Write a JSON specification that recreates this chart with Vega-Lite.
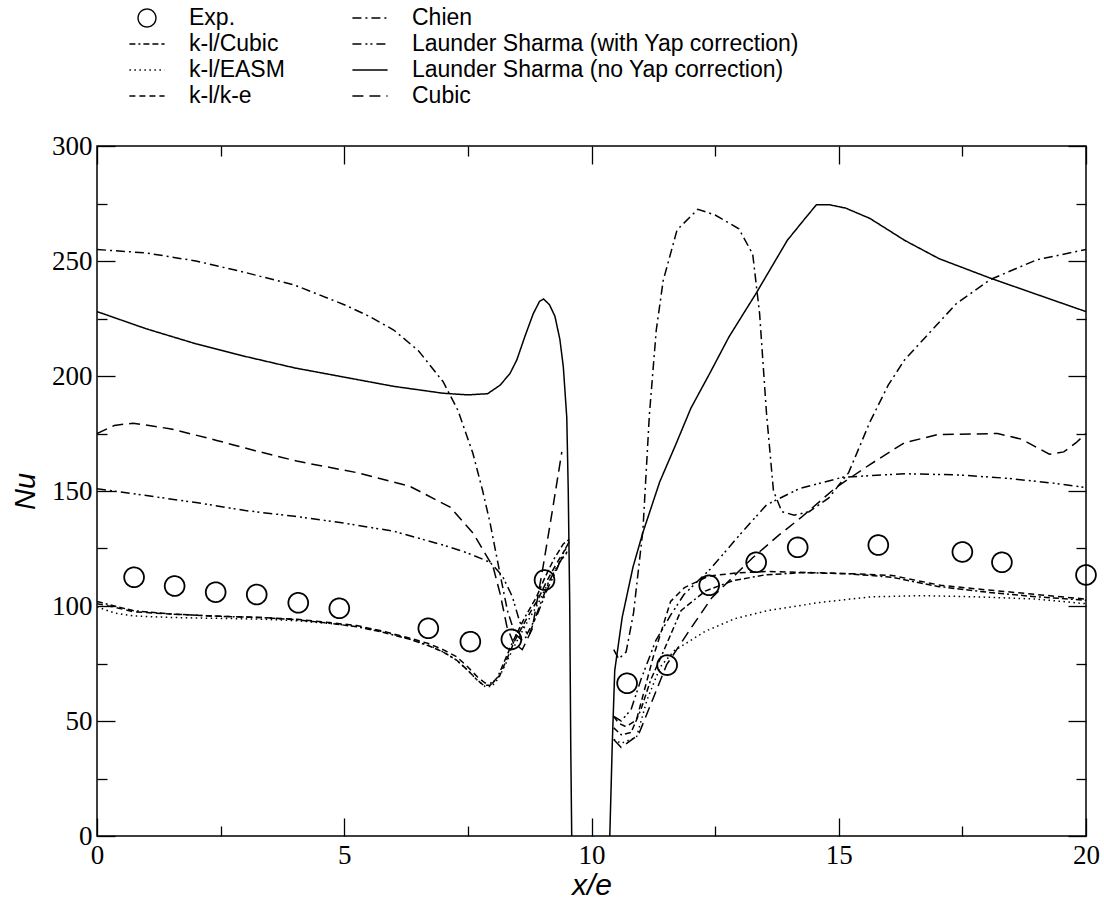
{
  "$schema": "https://vega.github.io/schema/vega-lite/v6.json",
  "width": 989,
  "height": 690,
  "autosize": {"type": "none"},
  "padding": {"left": 97, "top": 146, "right": 18, "bottom": 72},
  "background": "white",
  "datasets": {
    "curves": [
      {"s":"Launder Sharma (no Yap correction)","p":"L","x":0,"y":228},
      {"s":"Launder Sharma (no Yap correction)","p":"L","x":1,"y":220.5},
      {"s":"Launder Sharma (no Yap correction)","p":"L","x":2,"y":214},
      {"s":"Launder Sharma (no Yap correction)","p":"L","x":3,"y":208.5},
      {"s":"Launder Sharma (no Yap correction)","p":"L","x":4,"y":203.5},
      {"s":"Launder Sharma (no Yap correction)","p":"L","x":5,"y":199.5},
      {"s":"Launder Sharma (no Yap correction)","p":"L","x":6,"y":195.5},
      {"s":"Launder Sharma (no Yap correction)","p":"L","x":7,"y":192.5},
      {"s":"Launder Sharma (no Yap correction)","p":"L","x":7.5,"y":191.8},
      {"s":"Launder Sharma (no Yap correction)","p":"L","x":7.9,"y":192.3},
      {"s":"Launder Sharma (no Yap correction)","p":"L","x":8.15,"y":196},
      {"s":"Launder Sharma (no Yap correction)","p":"L","x":8.35,"y":201},
      {"s":"Launder Sharma (no Yap correction)","p":"L","x":8.49,"y":207},
      {"s":"Launder Sharma (no Yap correction)","p":"L","x":8.65,"y":217},
      {"s":"Launder Sharma (no Yap correction)","p":"L","x":8.82,"y":227},
      {"s":"Launder Sharma (no Yap correction)","p":"L","x":8.95,"y":232.5},
      {"s":"Launder Sharma (no Yap correction)","p":"L","x":9.03,"y":233.5},
      {"s":"Launder Sharma (no Yap correction)","p":"L","x":9.15,"y":231},
      {"s":"Launder Sharma (no Yap correction)","p":"L","x":9.26,"y":226},
      {"s":"Launder Sharma (no Yap correction)","p":"L","x":9.36,"y":216},
      {"s":"Launder Sharma (no Yap correction)","p":"L","x":9.43,"y":204},
      {"s":"Launder Sharma (no Yap correction)","p":"L","x":9.5,"y":182},
      {"s":"Launder Sharma (no Yap correction)","p":"L","x":9.53,"y":150},
      {"s":"Launder Sharma (no Yap correction)","p":"L","x":9.56,"y":100},
      {"s":"Launder Sharma (no Yap correction)","p":"L","x":9.58,"y":40},
      {"s":"Launder Sharma (no Yap correction)","p":"L","x":9.6,"y":0},
      {"s":"Launder Sharma (no Yap correction)","p":"R","x":10.37,"y":0},
      {"s":"Launder Sharma (no Yap correction)","p":"R","x":10.42,"y":40},
      {"s":"Launder Sharma (no Yap correction)","p":"R","x":10.47,"y":72},
      {"s":"Launder Sharma (no Yap correction)","p":"R","x":10.62,"y":95},
      {"s":"Launder Sharma (no Yap correction)","p":"R","x":10.84,"y":117},
      {"s":"Launder Sharma (no Yap correction)","p":"R","x":11.04,"y":132},
      {"s":"Launder Sharma (no Yap correction)","p":"R","x":11.38,"y":154},
      {"s":"Launder Sharma (no Yap correction)","p":"R","x":11.7,"y":170},
      {"s":"Launder Sharma (no Yap correction)","p":"R","x":12.01,"y":186},
      {"s":"Launder Sharma (no Yap correction)","p":"R","x":12.4,"y":201.5},
      {"s":"Launder Sharma (no Yap correction)","p":"R","x":12.78,"y":217},
      {"s":"Launder Sharma (no Yap correction)","p":"R","x":13.33,"y":236},
      {"s":"Launder Sharma (no Yap correction)","p":"R","x":13.96,"y":259},
      {"s":"Launder Sharma (no Yap correction)","p":"R","x":14.3,"y":268},
      {"s":"Launder Sharma (no Yap correction)","p":"R","x":14.55,"y":274.5},
      {"s":"Launder Sharma (no Yap correction)","p":"R","x":14.8,"y":274.5},
      {"s":"Launder Sharma (no Yap correction)","p":"R","x":15.14,"y":273},
      {"s":"Launder Sharma (no Yap correction)","p":"R","x":15.63,"y":268.5},
      {"s":"Launder Sharma (no Yap correction)","p":"R","x":16.0,"y":263.5},
      {"s":"Launder Sharma (no Yap correction)","p":"R","x":16.33,"y":259},
      {"s":"Launder Sharma (no Yap correction)","p":"R","x":17.03,"y":251},
      {"s":"Launder Sharma (no Yap correction)","p":"R","x":18.07,"y":242.5},
      {"s":"Launder Sharma (no Yap correction)","p":"R","x":19.0,"y":235.5},
      {"s":"Launder Sharma (no Yap correction)","p":"R","x":20,"y":228},

      {"s":"Chien","p":"L","x":0,"y":255},
      {"s":"Chien","p":"L","x":1,"y":253.5},
      {"s":"Chien","p":"L","x":2,"y":250},
      {"s":"Chien","p":"L","x":3,"y":245},
      {"s":"Chien","p":"L","x":4,"y":239.5},
      {"s":"Chien","p":"L","x":5,"y":231},
      {"s":"Chien","p":"L","x":5.5,"y":226},
      {"s":"Chien","p":"L","x":6,"y":220},
      {"s":"Chien","p":"L","x":6.5,"y":211},
      {"s":"Chien","p":"L","x":7,"y":197.5},
      {"s":"Chien","p":"L","x":7.3,"y":185},
      {"s":"Chien","p":"L","x":7.6,"y":166.5},
      {"s":"Chien","p":"L","x":7.8,"y":150},
      {"s":"Chien","p":"L","x":7.95,"y":136},
      {"s":"Chien","p":"L","x":8.15,"y":114},
      {"s":"Chien","p":"L","x":8.3,"y":98},
      {"s":"Chien","p":"L","x":8.45,"y":88},
      {"s":"Chien","p":"L","x":8.6,"y":85},
      {"s":"Chien","p":"L","x":8.75,"y":88},
      {"s":"Chien","p":"L","x":8.95,"y":100},
      {"s":"Chien","p":"L","x":9.15,"y":111},
      {"s":"Chien","p":"L","x":9.35,"y":119},
      {"s":"Chien","p":"L","x":9.52,"y":124},
      {"s":"Chien","p":"R","x":10.45,"y":81},
      {"s":"Chien","p":"R","x":10.55,"y":77},
      {"s":"Chien","p":"R","x":10.7,"y":80},
      {"s":"Chien","p":"R","x":10.85,"y":97},
      {"s":"Chien","p":"R","x":11.04,"y":133},
      {"s":"Chien","p":"R","x":11.17,"y":183},
      {"s":"Chien","p":"R","x":11.31,"y":220},
      {"s":"Chien","p":"R","x":11.45,"y":241.5},
      {"s":"Chien","p":"R","x":11.73,"y":263.5},
      {"s":"Chien","p":"R","x":12.15,"y":272.5},
      {"s":"Chien","p":"R","x":12.5,"y":270},
      {"s":"Chien","p":"R","x":12.98,"y":264},
      {"s":"Chien","p":"R","x":13.26,"y":253},
      {"s":"Chien","p":"R","x":13.4,"y":227},
      {"s":"Chien","p":"R","x":13.54,"y":183.5},
      {"s":"Chien","p":"R","x":13.68,"y":150},
      {"s":"Chien","p":"R","x":13.85,"y":141},
      {"s":"Chien","p":"R","x":14.1,"y":139.5},
      {"s":"Chien","p":"R","x":14.4,"y":141},
      {"s":"Chien","p":"R","x":14.8,"y":147},
      {"s":"Chien","p":"R","x":15.2,"y":158},
      {"s":"Chien","p":"R","x":15.63,"y":180},
      {"s":"Chien","p":"R","x":16.0,"y":196},
      {"s":"Chien","p":"R","x":16.33,"y":207},
      {"s":"Chien","p":"R","x":17.38,"y":231.5},
      {"s":"Chien","p":"R","x":18.07,"y":242},
      {"s":"Chien","p":"R","x":19.0,"y":250.5},
      {"s":"Chien","p":"R","x":20,"y":255},

      {"s":"Launder Sharma (with Yap correction)","p":"L","x":0,"y":151},
      {"s":"Launder Sharma (with Yap correction)","p":"L","x":1,"y":148},
      {"s":"Launder Sharma (with Yap correction)","p":"L","x":2,"y":145},
      {"s":"Launder Sharma (with Yap correction)","p":"L","x":3,"y":141.5},
      {"s":"Launder Sharma (with Yap correction)","p":"L","x":4,"y":139},
      {"s":"Launder Sharma (with Yap correction)","p":"L","x":5,"y":136},
      {"s":"Launder Sharma (with Yap correction)","p":"L","x":6,"y":132.5},
      {"s":"Launder Sharma (with Yap correction)","p":"L","x":7,"y":126.5},
      {"s":"Launder Sharma (with Yap correction)","p":"L","x":7.5,"y":123},
      {"s":"Launder Sharma (with Yap correction)","p":"L","x":7.95,"y":119},
      {"s":"Launder Sharma (with Yap correction)","p":"L","x":8.2,"y":113},
      {"s":"Launder Sharma (with Yap correction)","p":"L","x":8.4,"y":104},
      {"s":"Launder Sharma (with Yap correction)","p":"L","x":8.55,"y":93},
      {"s":"Launder Sharma (with Yap correction)","p":"L","x":8.7,"y":88},
      {"s":"Launder Sharma (with Yap correction)","p":"L","x":8.9,"y":96},
      {"s":"Launder Sharma (with Yap correction)","p":"L","x":9.1,"y":107},
      {"s":"Launder Sharma (with Yap correction)","p":"L","x":9.3,"y":116},
      {"s":"Launder Sharma (with Yap correction)","p":"L","x":9.45,"y":124},
      {"s":"Launder Sharma (with Yap correction)","p":"L","x":9.55,"y":128},
      {"s":"Launder Sharma (with Yap correction)","p":"R","x":10.45,"y":52},
      {"s":"Launder Sharma (with Yap correction)","p":"R","x":10.6,"y":50},
      {"s":"Launder Sharma (with Yap correction)","p":"R","x":10.8,"y":55},
      {"s":"Launder Sharma (with Yap correction)","p":"R","x":11.0,"y":68},
      {"s":"Launder Sharma (with Yap correction)","p":"R","x":11.3,"y":85},
      {"s":"Launder Sharma (with Yap correction)","p":"R","x":11.6,"y":96},
      {"s":"Launder Sharma (with Yap correction)","p":"R","x":11.87,"y":105},
      {"s":"Launder Sharma (with Yap correction)","p":"R","x":12.4,"y":116},
      {"s":"Launder Sharma (with Yap correction)","p":"R","x":13.0,"y":131},
      {"s":"Launder Sharma (with Yap correction)","p":"R","x":13.54,"y":144},
      {"s":"Launder Sharma (with Yap correction)","p":"R","x":14.2,"y":151},
      {"s":"Launder Sharma (with Yap correction)","p":"R","x":15.08,"y":156},
      {"s":"Launder Sharma (with Yap correction)","p":"R","x":16.33,"y":157.5},
      {"s":"Launder Sharma (with Yap correction)","p":"R","x":17.4,"y":157},
      {"s":"Launder Sharma (with Yap correction)","p":"R","x":18.42,"y":155.5},
      {"s":"Launder Sharma (with Yap correction)","p":"R","x":19.3,"y":153.5},
      {"s":"Launder Sharma (with Yap correction)","p":"R","x":20,"y":151.5},

      {"s":"Cubic","p":"L","x":0,"y":175},
      {"s":"Cubic","p":"L","x":0.35,"y":178.5},
      {"s":"Cubic","p":"L","x":0.73,"y":179.5},
      {"s":"Cubic","p":"L","x":1.5,"y":177},
      {"s":"Cubic","p":"L","x":2.42,"y":172},
      {"s":"Cubic","p":"L","x":3.2,"y":167.5},
      {"s":"Cubic","p":"L","x":4.04,"y":163},
      {"s":"Cubic","p":"L","x":5.25,"y":158},
      {"s":"Cubic","p":"L","x":6.33,"y":152},
      {"s":"Cubic","p":"L","x":7.14,"y":143},
      {"s":"Cubic","p":"L","x":7.61,"y":131.5},
      {"s":"Cubic","p":"L","x":8.01,"y":117},
      {"s":"Cubic","p":"L","x":8.15,"y":105.5},
      {"s":"Cubic","p":"L","x":8.29,"y":91},
      {"s":"Cubic","p":"L","x":8.42,"y":84},
      {"s":"Cubic","p":"L","x":8.6,"y":81},
      {"s":"Cubic","p":"L","x":8.8,"y":90},
      {"s":"Cubic","p":"L","x":9.02,"y":117},
      {"s":"Cubic","p":"L","x":9.22,"y":143},
      {"s":"Cubic","p":"L","x":9.4,"y":167},
      {"s":"Cubic","p":"R","x":10.45,"y":42},
      {"s":"Cubic","p":"R","x":10.6,"y":38.5},
      {"s":"Cubic","p":"R","x":10.95,"y":44},
      {"s":"Cubic","p":"R","x":11.25,"y":60},
      {"s":"Cubic","p":"R","x":11.52,"y":74.5},
      {"s":"Cubic","p":"R","x":12.0,"y":90},
      {"s":"Cubic","p":"R","x":12.43,"y":103.5},
      {"s":"Cubic","p":"R","x":13.26,"y":121},
      {"s":"Cubic","p":"R","x":13.8,"y":131},
      {"s":"Cubic","p":"R","x":14.24,"y":138.5},
      {"s":"Cubic","p":"R","x":14.94,"y":151.5},
      {"s":"Cubic","p":"R","x":15.63,"y":161.5},
      {"s":"Cubic","p":"R","x":16.33,"y":171},
      {"s":"Cubic","p":"R","x":17.0,"y":174.5},
      {"s":"Cubic","p":"R","x":18.21,"y":175},
      {"s":"Cubic","p":"R","x":18.7,"y":172.5},
      {"s":"Cubic","p":"R","x":19.0,"y":169},
      {"s":"Cubic","p":"R","x":19.26,"y":166},
      {"s":"Cubic","p":"R","x":19.55,"y":167},
      {"s":"Cubic","p":"R","x":19.8,"y":171},
      {"s":"Cubic","p":"R","x":20,"y":175},

      {"s":"k-l/Cubic","p":"L","x":0,"y":102},
      {"s":"k-l/Cubic","p":"L","x":0.35,"y":100},
      {"s":"k-l/Cubic","p":"L","x":0.73,"y":98},
      {"s":"k-l/Cubic","p":"L","x":1.5,"y":96.5},
      {"s":"k-l/Cubic","p":"L","x":2.5,"y":95.5},
      {"s":"k-l/Cubic","p":"L","x":3.3,"y":95},
      {"s":"k-l/Cubic","p":"L","x":4.04,"y":94},
      {"s":"k-l/Cubic","p":"L","x":4.7,"y":92.5},
      {"s":"k-l/Cubic","p":"L","x":5.25,"y":91},
      {"s":"k-l/Cubic","p":"L","x":5.8,"y":88.5},
      {"s":"k-l/Cubic","p":"L","x":6.33,"y":85.5},
      {"s":"k-l/Cubic","p":"L","x":6.73,"y":82.5},
      {"s":"k-l/Cubic","p":"L","x":7.0,"y":80},
      {"s":"k-l/Cubic","p":"L","x":7.27,"y":76.5},
      {"s":"k-l/Cubic","p":"L","x":7.5,"y":72},
      {"s":"k-l/Cubic","p":"L","x":7.68,"y":68},
      {"s":"k-l/Cubic","p":"L","x":7.82,"y":65.5},
      {"s":"k-l/Cubic","p":"L","x":7.95,"y":65.5},
      {"s":"k-l/Cubic","p":"L","x":8.1,"y":69},
      {"s":"k-l/Cubic","p":"L","x":8.42,"y":85},
      {"s":"k-l/Cubic","p":"L","x":8.65,"y":95},
      {"s":"k-l/Cubic","p":"L","x":8.89,"y":104},
      {"s":"k-l/Cubic","p":"L","x":9.05,"y":112},
      {"s":"k-l/Cubic","p":"L","x":9.23,"y":120},
      {"s":"k-l/Cubic","p":"L","x":9.43,"y":127},
      {"s":"k-l/Cubic","p":"L","x":9.55,"y":129},
      {"s":"k-l/Cubic","p":"R","x":10.45,"y":47},
      {"s":"k-l/Cubic","p":"R","x":10.6,"y":44},
      {"s":"k-l/Cubic","p":"R","x":10.8,"y":45},
      {"s":"k-l/Cubic","p":"R","x":11.0,"y":55},
      {"s":"k-l/Cubic","p":"R","x":11.2,"y":68},
      {"s":"k-l/Cubic","p":"R","x":11.46,"y":80.5},
      {"s":"k-l/Cubic","p":"R","x":11.81,"y":98},
      {"s":"k-l/Cubic","p":"R","x":12.3,"y":106.5},
      {"s":"k-l/Cubic","p":"R","x":12.86,"y":111},
      {"s":"k-l/Cubic","p":"R","x":13.5,"y":113.5},
      {"s":"k-l/Cubic","p":"R","x":14.26,"y":114.5},
      {"s":"k-l/Cubic","p":"R","x":15.2,"y":114},
      {"s":"k-l/Cubic","p":"R","x":16.08,"y":112.5},
      {"s":"k-l/Cubic","p":"R","x":17.0,"y":108.5},
      {"s":"k-l/Cubic","p":"R","x":18.0,"y":106},
      {"s":"k-l/Cubic","p":"R","x":19.0,"y":104},
      {"s":"k-l/Cubic","p":"R","x":20,"y":102.5},

      {"s":"k-l/k-e","p":"L","x":0,"y":101},
      {"s":"k-l/k-e","p":"L","x":0.35,"y":99.5},
      {"s":"k-l/k-e","p":"L","x":0.73,"y":97.5},
      {"s":"k-l/k-e","p":"L","x":1.5,"y":96.5},
      {"s":"k-l/k-e","p":"L","x":2.5,"y":95.5},
      {"s":"k-l/k-e","p":"L","x":3.3,"y":95},
      {"s":"k-l/k-e","p":"L","x":4.04,"y":94.2},
      {"s":"k-l/k-e","p":"L","x":4.7,"y":92.8},
      {"s":"k-l/k-e","p":"L","x":5.25,"y":91.5},
      {"s":"k-l/k-e","p":"L","x":5.8,"y":89},
      {"s":"k-l/k-e","p":"L","x":6.33,"y":86},
      {"s":"k-l/k-e","p":"L","x":6.73,"y":83.5},
      {"s":"k-l/k-e","p":"L","x":7.0,"y":81},
      {"s":"k-l/k-e","p":"L","x":7.27,"y":78},
      {"s":"k-l/k-e","p":"L","x":7.5,"y":73.5},
      {"s":"k-l/k-e","p":"L","x":7.7,"y":69},
      {"s":"k-l/k-e","p":"L","x":7.85,"y":66.5},
      {"s":"k-l/k-e","p":"L","x":8.0,"y":66.5},
      {"s":"k-l/k-e","p":"L","x":8.15,"y":70},
      {"s":"k-l/k-e","p":"L","x":8.45,"y":85},
      {"s":"k-l/k-e","p":"L","x":8.7,"y":95},
      {"s":"k-l/k-e","p":"L","x":8.92,"y":103},
      {"s":"k-l/k-e","p":"L","x":9.1,"y":111},
      {"s":"k-l/k-e","p":"L","x":9.28,"y":118},
      {"s":"k-l/k-e","p":"L","x":9.45,"y":124},
      {"s":"k-l/k-e","p":"L","x":9.55,"y":126},
      {"s":"k-l/k-e","p":"R","x":10.45,"y":52},
      {"s":"k-l/k-e","p":"R","x":10.55,"y":49},
      {"s":"k-l/k-e","p":"R","x":10.7,"y":47.5},
      {"s":"k-l/k-e","p":"R","x":10.91,"y":50.5},
      {"s":"k-l/k-e","p":"R","x":11.12,"y":67.5},
      {"s":"k-l/k-e","p":"R","x":11.25,"y":78},
      {"s":"k-l/k-e","p":"R","x":11.39,"y":87.5},
      {"s":"k-l/k-e","p":"R","x":11.6,"y":102},
      {"s":"k-l/k-e","p":"R","x":11.88,"y":108},
      {"s":"k-l/k-e","p":"R","x":12.37,"y":113},
      {"s":"k-l/k-e","p":"R","x":13.0,"y":114.5},
      {"s":"k-l/k-e","p":"R","x":13.56,"y":115},
      {"s":"k-l/k-e","p":"R","x":14.5,"y":114.5},
      {"s":"k-l/k-e","p":"R","x":15.3,"y":114},
      {"s":"k-l/k-e","p":"R","x":16.08,"y":113.3},
      {"s":"k-l/k-e","p":"R","x":16.6,"y":111},
      {"s":"k-l/k-e","p":"R","x":17.06,"y":109},
      {"s":"k-l/k-e","p":"R","x":18.0,"y":107},
      {"s":"k-l/k-e","p":"R","x":19.0,"y":105},
      {"s":"k-l/k-e","p":"R","x":20,"y":103},

      {"s":"k-l/EASM","p":"L","x":0,"y":99.6},
      {"s":"k-l/EASM","p":"L","x":0.35,"y":97},
      {"s":"k-l/EASM","p":"L","x":0.73,"y":95.7},
      {"s":"k-l/EASM","p":"L","x":1.5,"y":95},
      {"s":"k-l/EASM","p":"L","x":2.5,"y":94.6},
      {"s":"k-l/EASM","p":"L","x":3.3,"y":94.3},
      {"s":"k-l/EASM","p":"L","x":4.04,"y":93.6},
      {"s":"k-l/EASM","p":"L","x":4.7,"y":92.4},
      {"s":"k-l/EASM","p":"L","x":5.25,"y":91.2},
      {"s":"k-l/EASM","p":"L","x":5.8,"y":88.8},
      {"s":"k-l/EASM","p":"L","x":6.33,"y":85.6},
      {"s":"k-l/EASM","p":"L","x":6.73,"y":82.8},
      {"s":"k-l/EASM","p":"L","x":7.0,"y":80},
      {"s":"k-l/EASM","p":"L","x":7.27,"y":76.5},
      {"s":"k-l/EASM","p":"L","x":7.5,"y":72},
      {"s":"k-l/EASM","p":"L","x":7.7,"y":67.5},
      {"s":"k-l/EASM","p":"L","x":7.85,"y":65},
      {"s":"k-l/EASM","p":"L","x":7.98,"y":65},
      {"s":"k-l/EASM","p":"L","x":8.12,"y":68.5},
      {"s":"k-l/EASM","p":"L","x":8.45,"y":83},
      {"s":"k-l/EASM","p":"L","x":8.7,"y":93},
      {"s":"k-l/EASM","p":"L","x":8.92,"y":101},
      {"s":"k-l/EASM","p":"L","x":9.1,"y":109},
      {"s":"k-l/EASM","p":"L","x":9.28,"y":116},
      {"s":"k-l/EASM","p":"L","x":9.45,"y":122},
      {"s":"k-l/EASM","p":"L","x":9.55,"y":124},
      {"s":"k-l/EASM","p":"R","x":10.45,"y":42},
      {"s":"k-l/EASM","p":"R","x":10.6,"y":40.3},
      {"s":"k-l/EASM","p":"R","x":10.91,"y":43},
      {"s":"k-l/EASM","p":"R","x":11.12,"y":59},
      {"s":"k-l/EASM","p":"R","x":11.39,"y":73.5},
      {"s":"k-l/EASM","p":"R","x":11.67,"y":80.5},
      {"s":"k-l/EASM","p":"R","x":12.3,"y":89},
      {"s":"k-l/EASM","p":"R","x":12.9,"y":94.5},
      {"s":"k-l/EASM","p":"R","x":13.56,"y":98},
      {"s":"k-l/EASM","p":"R","x":14.6,"y":101.5},
      {"s":"k-l/EASM","p":"R","x":15.66,"y":104},
      {"s":"k-l/EASM","p":"R","x":16.7,"y":104.5},
      {"s":"k-l/EASM","p":"R","x":17.76,"y":104},
      {"s":"k-l/EASM","p":"R","x":19.0,"y":103},
      {"s":"k-l/EASM","p":"R","x":20,"y":101}
    ],
    "exp": [
      {"s":"Exp.","x":0.75,"y":112.5},
      {"s":"Exp.","x":1.57,"y":108.7},
      {"s":"Exp.","x":2.4,"y":106},
      {"s":"Exp.","x":3.23,"y":105},
      {"s":"Exp.","x":4.07,"y":101.4},
      {"s":"Exp.","x":4.9,"y":99},
      {"s":"Exp.","x":6.7,"y":90.3},
      {"s":"Exp.","x":7.55,"y":84.5},
      {"s":"Exp.","x":8.38,"y":85.5},
      {"s":"Exp.","x":9.05,"y":111.3},
      {"s":"Exp.","x":10.72,"y":66.4},
      {"s":"Exp.","x":11.53,"y":74.3},
      {"s":"Exp.","x":12.38,"y":109},
      {"s":"Exp.","x":13.33,"y":119},
      {"s":"Exp.","x":14.17,"y":125.5},
      {"s":"Exp.","x":15.8,"y":126.5},
      {"s":"Exp.","x":17.5,"y":123.5},
      {"s":"Exp.","x":18.3,"y":119},
      {"s":"Exp.","x":20.0,"y":113.5}
    ]
  },
  "resolve": {"axis": {"x": "independent", "y": "independent"}},
  "layer": [
    {
      "data": {"name": "curves"},
      "mark": {"type": "line", "color": "black", "strokeWidth": 1.5, "strokeCap": "butt", "clip": true},
      "encoding": {
        "x": {"field": "x", "type": "quantitative", "scale": {"domain": [0, 20], "nice": false, "zero": false},
          "axis": {"orient": "bottom", "values": [0, 5, 10, 15, 20], "tickSize": -18, "labelPadding": 24, "title": "x/e", "titlePadding": 2, "titleFont": "Liberation Sans", "titleFontStyle": "italic", "titleFontWeight": "normal", "titleFontSize": 30}},
        "y": {"field": "y", "type": "quantitative", "scale": {"domain": [0, 300], "nice": false, "zero": true},
          "axis": {"orient": "left", "values": [0, 50, 100, 150, 200, 250, 300], "tickSize": -18, "labelPadding": 23, "title": "Nu", "titlePadding": 11, "titleFont": "Liberation Sans", "titleFontStyle": "italic", "titleFontWeight": "normal", "titleFontSize": 29}},
        "detail": {"field": "p"},
        "order": {"field": "x", "type": "quantitative"},
        "strokeDash": {"field": "s", "type": "nominal",
          "scale": {
            "domain": ["Exp.", "k-l/Cubic", "k-l/EASM", "k-l/k-e", "Chien", "Launder Sharma (with Yap correction)", "Launder Sharma (no Yap correction)", "Cubic"],
            "range": [[1, 0], [6, 3, 2, 3, 6, 3, 6, 3], [1.5, 3.5], [6, 4], [9, 4, 2, 4], [9, 4, 2, 3, 2, 4], [1, 0], [11, 6]]
          },
          "legend": {
            "title": null, "orient": "none", "legendX": 38, "legendY": -140, "columns": 2, "columnPadding": 64, "rowPadding": 2,
            "labelFont": "Liberation Sans", "labelFontSize": 23, "labelColor": "black", "labelOffset": 30, "labelLimit": 700,
            "symbolSize": 484, "symbolStrokeWidth": 1.3, "symbolStrokeColor": "black", "symbolType": "M-1.6,0L1.6,0",
            "encode": {"symbols": {"update": {
              "shape": {"signal": "datum.value === 'Exp.' ? 'circle' : 'M-1.6,0L1.6,0'"},
              "size": {"signal": "datum.value === 'Exp.' ? 320 : 484"},
              "fill": {"value": "transparent"},
              "stroke": {"value": "black"},
              "strokeWidth": {"value": 1.4}
            }}}
          }
        }
      }
    },
    {
      "data": {"name": "exp"},
      "mark": {"type": "point", "shape": "circle", "size": 390, "filled": false, "color": "black", "strokeWidth": 1.8, "opacity": 1},
      "encoding": {
        "x": {"field": "x", "type": "quantitative", "axis": {"orient": "top", "values": [0, 5, 10, 15, 20], "tickSize": -18, "labels": false, "title": null}},
        "y": {"field": "y", "type": "quantitative", "axis": {"orient": "right", "values": [0, 50, 100, 150, 200, 250, 300], "tickSize": -18, "labels": false, "title": null}},
        "strokeDash": {"field": "s", "type": "nominal"}
      }
    },
    {
      "data": {"name": "exp"},
      "mark": {"type": "point", "opacity": 0},
      "encoding": {
        "x": {"field": "x", "type": "quantitative", "axis": {"orient": "bottom", "values": [2.5, 7.5, 12.5, 17.5], "tickSize": -10, "labels": false, "title": null}},
        "y": {"field": "y", "type": "quantitative", "axis": {"orient": "left", "values": [25, 75, 125, 175, 225, 275], "tickSize": -10, "labels": false, "title": null}}
      }
    },
    {
      "data": {"name": "exp"},
      "mark": {"type": "point", "opacity": 0},
      "encoding": {
        "x": {"field": "x", "type": "quantitative", "axis": {"orient": "top", "values": [2.5, 7.5, 12.5, 17.5], "tickSize": -10, "labels": false, "title": null}},
        "y": {"field": "y", "type": "quantitative", "axis": {"orient": "right", "values": [25, 75, 125, 175, 225, 275], "tickSize": -10, "labels": false, "title": null}}
      }
    }
  ],
  "config": {
    "view": {"stroke": "black", "strokeWidth": 1.5},
    "axis": {"domain": false, "grid": false, "tickColor": "black", "tickWidth": 1.3, "labelColor": "black", "labelFont": "Liberation Serif", "labelFontSize": 27, "titleColor": "black", "labelFlush": false, "labelOverlap": false}
  }
}
